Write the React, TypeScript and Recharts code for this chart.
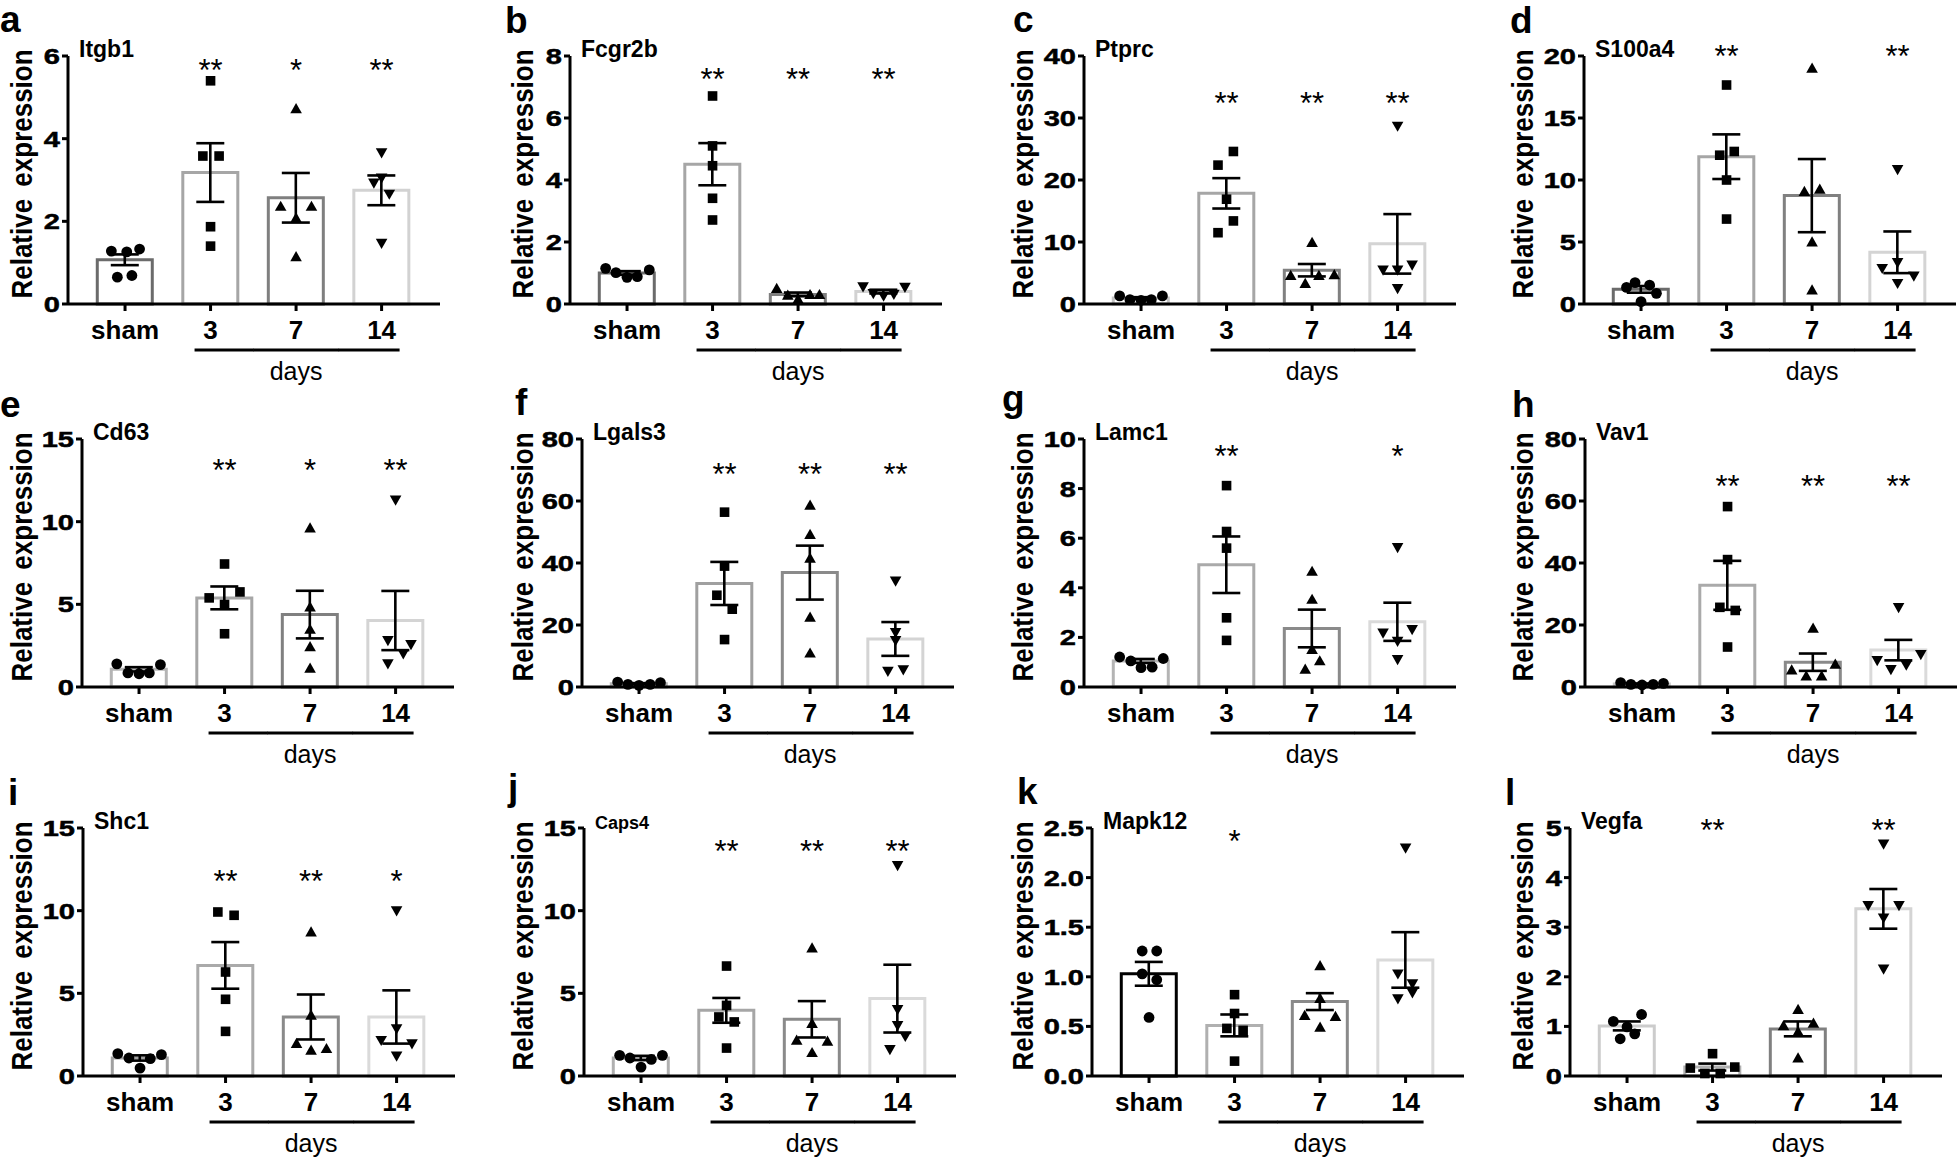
import React from 'react'
import { ComposedChart, Bar, Cell, ErrorBar, Scatter, XAxis, YAxis, ReferenceDot } from 'recharts'

const groups = ['sham', '3', '7', '14']

// a – Itgb1
const itgb1Mean = [1.07, 3.18, 2.57, 2.75]
const itgb1Sem = [0.13, 0.71, 0.6, 0.36]
const itgb1Points = [[1.28, 1.26, 1.33, 0.65, 0.69], [5.4, 3.58, 3.58, 1.87, 1.4], [4.72, 2.36, 2.36, 2.08, 1.14], [3.66, 2.93, 2.66, 3.05, 1.47]]
const itgb1Jitter = [[-0.16, 0.02, 0.17, -0.09, 0.08], [0, -0.09, 0.1, 0, 0], [0, -0.18, 0.18, 0, 0], [0, -0.09, 0.09, 0, 0]]
const itgb1Ticks = [0, 2, 4, 6]
const itgb1Stars = ['', '**', '*', '**']

// b – Fcgr2b
const fcgr2bMean = [1.0, 4.51, 0.31, 0.4]
const fcgr2bSem = [0.06, 0.68, 0.06, 0.06]
const fcgr2bPoints = [[1.15, 1.01, 0.86, 0.88, 1.1], [6.71, 5.1, 4.46, 3.41, 2.71], [0.5, 0.28, 0.15, 0.3, 0.3], [0.56, 0.34, 0.26, 0.32, 0.54]]
const fcgr2bJitter = [[-0.25, -0.13, 0, 0.12, 0.26], [0, 0, 0, 0, 0], [-0.25, -0.12, 0, 0.14, 0.25], [-0.24, -0.12, 0, 0.12, 0.25]]
const fcgr2bTicks = [0, 2, 4, 6, 8]
const fcgr2bStars = ['', '**', '**', '**']

// c – Ptprc
const ptprcMean = [0.95, 17.85, 5.45, 9.7]
const ptprcSem = [0.15, 2.45, 1.0, 4.8]
const ptprcPoints = [[1.3, 0.7, 0.6, 0.7, 1.3], [22.4, 24.6, 16.9, 13.4, 11.5], [9.9, 4.6, 4.7, 3.3, 4.6], [28.7, 5.5, 5.5, 6.3, 2.5]]
const ptprcJitter = [[-0.25, -0.13, 0, 0.12, 0.25], [-0.1, 0.08, 0, 0.08, -0.1], [0, -0.25, 0.26, -0.08, 0.08], [0, -0.17, 0, 0.17, 0]]
const ptprcTicks = [0, 10, 20, 30, 40]
const ptprcStars = ['', '**', '**', '**']

// d – S100a4
const s100a4Mean = [1.18, 11.88, 8.74, 4.17]
const s100a4Sem = [0.27, 1.8, 2.95, 1.68]
const s100a4Points = [[1.34, 1.72, 1.53, 0.86, 0.19], [17.66, 12.0, 12.3, 10.0, 6.85], [19.0, 9.06, 9.25, 5.0, 1.13], [10.86, 2.88, 3.36, 2.26, 1.67]]
const s100a4Jitter = [[-0.17, -0.07, 0.1, 0.18, 0], [0, -0.08, 0.09, 0, 0], [0, -0.09, 0.09, 0, 0], [0, -0.18, 0, 0.19, 0]]
const s100a4Ticks = [0, 5, 10, 15, 20]
const s100a4Stars = ['', '**', '', '**']

// e – Cd63
const cd63Mean = [1.07, 5.39, 4.38, 4.02]
const cd63Sem = [0.13, 0.69, 1.44, 1.79]
const cd63Points = [[1.4, 0.85, 0.8, 0.85, 1.35], [7.44, 5.39, 5.75, 4.99, 3.22], [9.61, 4.83, 3.48, 2.43, 1.13], [11.32, 2.82, 2.57, 2.01, 1.41]]
const cd63Jitter = [[-0.26, -0.13, 0, 0.12, 0.25], [0, -0.18, 0.18, 0, 0], [0, 0, 0, 0, 0], [0, -0.09, 0.18, 0.09, -0.09]]
const cd63Ticks = [0, 5, 10, 15]
const cd63Stars = ['', '**', '*', '**']

// f – Lgals3
const lgals3Mean = [1.05, 33.4, 36.9, 15.5]
const lgals3Sem = [0.2, 6.95, 8.7, 5.45]
const lgals3Points = [[1.6, 0.86, 0.53, 0.86, 1.4], [56.4, 39.0, 29.6, 25.1, 15.3], [58.6, 49.2, 41.5, 22.5, 10.9], [34.2, 17.6, 15.0, 5.1, 5.6]]
const lgals3Jitter = [[-0.25, -0.13, 0, 0.13, 0.25], [0, 0, -0.09, 0.09, 0], [0, 0, 0, 0, 0], [0, 0, 0, -0.09, 0.09]]
const lgals3Ticks = [0, 20, 40, 60, 80]
const lgals3Stars = ['', '**', '**', '**']

// g – Lamc1
const lamc1Mean = [1.05, 4.93, 2.36, 2.63]
const lamc1Sem = [0.08, 1.14, 0.76, 0.77]
const lamc1Points = [[1.21, 1.05, 0.78, 0.8, 1.15], [8.12, 6.27, 5.6, 2.79, 1.88], [4.66, 3.53, 1.51, 0.71, 1.05], [5.63, 2.18, 2.32, 1.85, 1.11]]
const lamc1Jitter = [[-0.25, -0.12, 0, 0.13, 0.26], [0, 0, 0, 0, 0], [0, 0, 0, -0.08, 0.09], [0, -0.17, 0.17, 0, 0]]
const lamc1Ticks = [0, 2, 4, 6, 8, 10]
const lamc1Stars = ['', '**', '', '*']

// h – Vav1
const vav1Mean = [1.0, 32.8, 8.0, 11.9]
const vav1Sem = [0.15, 7.9, 2.8, 3.3]
const vav1Points = [[1.4, 0.86, 0.64, 0.86, 1.18], [58.2, 41.1, 25.7, 24.7, 12.9], [18.9, 5.47, 3.54, 3.54, 7.29], [25.7, 8.58, 5.68, 7.08, 10.5]]
const vav1Jitter = [[-0.25, -0.13, 0, 0.13, 0.25], [0, 0, -0.09, 0.09, 0], [0, -0.25, -0.08, 0.1, 0.26], [0, -0.25, -0.09, 0.09, 0.26]]
const vav1Ticks = [0, 20, 40, 60, 80]
const vav1Stars = ['', '**', '**', '**']

// i – Shc1
const shc1Mean = [1.09, 6.69, 3.57, 3.57]
const shc1Sem = [0.16, 1.41, 1.36, 1.61]
const shc1Points = [[1.35, 1.09, 0.48, 1.05, 1.29], [9.92, 9.72, 6.29, 4.64, 2.7], [8.71, 3.67, 1.96, 1.55, 1.65], [10.0, 2.86, 2.16, 1.96, 1.21]]
const shc1Jitter = [[-0.26, -0.13, 0, 0.12, 0.25], [-0.09, 0.1, 0, 0, 0], [0, 0, -0.17, 0, 0.18], [0, 0, -0.18, 0.18, 0]]
const shc1Ticks = [0, 5, 10, 15]
const shc1Stars = ['', '**', '**', '*']

// j – Caps4
const caps4Mean = [1.09, 3.97, 3.43, 4.68]
const caps4Sem = [0.13, 0.75, 1.1, 2.05]
const caps4Points = [[1.25, 1.09, 0.54, 1.0, 1.25], [6.65, 4.27, 3.57, 3.27, 1.69], [7.74, 3.17, 2.16, 2.1, 1.41], [12.74, 4.03, 3.06, 2.4, 1.61]]
const caps4Jitter = [[-0.25, -0.13, 0, 0.12, 0.25], [0, 0, -0.09, 0.09, 0], [0, 0, -0.18, 0.18, 0], [0, 0, 0, 0.09, -0.09]]
const caps4Ticks = [0, 5, 10, 15]
const caps4Stars = ['', '**', '**', '**']

// k – Mapk12
const mapk12Mean = [1.03, 0.51, 0.75, 1.17]
const mapk12Sem = [0.12, 0.11, 0.085, 0.28]
const mapk12Points = [[1.26, 1.26, 1.03, 0.97, 0.59], [0.82, 0.63, 0.48, 0.46, 0.15], [1.11, 0.78, 0.61, 0.6, 0.49], [2.3, 1.03, 0.93, 0.78, 0.84]]
const mapk12Jitter = [[-0.08, 0.09, -0.08, 0.09, 0], [0, 0, -0.09, 0.1, 0], [0, 0, -0.18, 0.18, 0], [0, -0.09, 0.08, -0.09, 0.08]]
const mapk12Ticks = [0, 0.5, 1, 1.5, 2, 2.5]
const mapk12Stars = ['', '*', '', '']

// l – Vegfa
const vegfaMean = [1.01, 0.18, 0.95, 3.37]
const vegfaSem = [0.09, 0.07, 0.15, 0.4]
const vegfaPoints = [[1.1, 0.99, 1.24, 0.75, 0.85], [0.45, 0.16, 0.18, 0.05, 0.05], [1.34, 1.01, 1.06, 0.89, 0.36], [4.68, 3.44, 3.44, 3.19, 2.16]]
const vegfaJitter = [[-0.16, 0, 0.17, -0.08, 0.09], [0, -0.26, 0.26, -0.09, 0.09], [0, -0.17, 0.18, 0, 0], [0, -0.18, 0.18, 0, 0]]
const vegfaTicks = [0, 1, 2, 3, 4, 5]
const vegfaStars = ['', '**', '', '**']

const panels = [
  { letter: 'a', gene: 'Itgb1', mean: itgb1Mean, sem: itgb1Sem, points: itgb1Points, jitter: itgb1Jitter, ticks: itgb1Ticks, stars: itgb1Stars, starY: 5.8 },
  { letter: 'b', gene: 'Fcgr2b', mean: fcgr2bMean, sem: fcgr2bSem, points: fcgr2bPoints, jitter: fcgr2bJitter, ticks: fcgr2bTicks, stars: fcgr2bStars, starY: 7.44 },
  { letter: 'c', gene: 'Ptprc', mean: ptprcMean, sem: ptprcSem, points: ptprcPoints, jitter: ptprcJitter, ticks: ptprcTicks, stars: ptprcStars, starY: 33.4 },
  { letter: 'd', gene: 'S100a4', mean: s100a4Mean, sem: s100a4Sem, points: s100a4Points, jitter: s100a4Jitter, ticks: s100a4Ticks, stars: s100a4Stars, starY: 20.5 },
  { letter: 'e', gene: 'Cd63', mean: cd63Mean, sem: cd63Sem, points: cd63Points, jitter: cd63Jitter, ticks: cd63Ticks, stars: cd63Stars, starY: 13.5 },
  { letter: 'f', gene: 'Lgals3', mean: lgals3Mean, sem: lgals3Sem, points: lgals3Points, jitter: lgals3Jitter, ticks: lgals3Ticks, stars: lgals3Stars, starY: 70.8 },
  { letter: 'g', gene: 'Lamc1', mean: lamc1Mean, sem: lamc1Sem, points: lamc1Points, jitter: lamc1Jitter, ticks: lamc1Ticks, stars: lamc1Stars, starY: 9.56 },
  { letter: 'h', gene: 'Vav1', mean: vav1Mean, sem: vav1Sem, points: vav1Points, jitter: vav1Jitter, ticks: vav1Ticks, stars: vav1Stars, starY: 66.8 },
  { letter: 'i', gene: 'Shc1', mean: shc1Mean, sem: shc1Sem, points: shc1Points, jitter: shc1Jitter, ticks: shc1Ticks, stars: shc1Stars, starY: 12.14 },
  { letter: 'j', gene: 'Caps4', mean: caps4Mean, sem: caps4Sem, points: caps4Points, jitter: caps4Jitter, ticks: caps4Ticks, stars: caps4Stars, starY: 14.0 },
  { letter: 'k', gene: 'Mapk12', mean: mapk12Mean, sem: mapk12Sem, points: mapk12Points, jitter: mapk12Jitter, ticks: mapk12Ticks, stars: mapk12Stars, starY: 2.43 },
  { letter: 'l', gene: 'Vegfa', mean: vegfaMean, sem: vegfaSem, points: vegfaPoints, jitter: vegfaJitter, ticks: vegfaTicks, stars: vegfaStars, starY: 5.09 },
]

// layout / styling per panel (pixels, colours)
const colLeft = [0, 490, 980, 1470]
const rowTop = [0, 385, 772]
const rowHeight = [385, 387, 390]
const rowMarginTop = [56, 54, 56]
const PAD = 16 // extra room above each panel so the big letters are never clipped
const axisWidth = [68, 80, 104, 114, 82, 92, 104, 115, 83, 94, 112, 100]
const yLabelX = [22, 33, 43, 53]
const letterPos = [[0, 32], [15, 33], [33, 32], [40, 33], [0, 32], [25, 30], [22, 26], [42, 32], [8, 33], [18, 28], [37, 32], [35, 33]]
const barStrokes = [
  ['#6b6b6b', '#a6a6a6', '#7f7f7f', '#d2d2d2'],
  ['#6b6b6b', '#a6a6a6', '#7f7f7f', '#d2d2d2'],
  ['#c4c4c4', '#a6a6a6', '#808080', '#d4d4d4'],
  ['#6b6b6b', '#a6a6a6', '#808080', '#d4d4d4'],
  ['#b4b4b4', '#a6a6a6', '#808080', '#d4d4d4'],
  ['#b4b4b4', '#a0a0a0', '#8a8a8a', '#d4d4d4'],
  ['#b4b4b4', '#aaaaaa', '#8a8a8a', '#dadada'],
  ['#c8c8c8', '#aaaaaa', '#8a8a8a', '#dadada'],
  ['#a0a0a0', '#aaaaaa', '#8a8a8a', '#dadada'],
  ['#b0b0b0', '#a6a6a6', '#8a8a8a', '#dadada'],
  ['#000000', '#b0b0b0', '#8a8a8a', '#dadada'],
  ['#cccccc', '#b0b0b0', '#808080', '#d4d4d4'],
]

const CHART_W = 490
const PLOT_W = 372
const PLOT_H = 248
const X_DOMAIN = [-0.667, 3.683]
const SANS = '"Liberation Sans", Arial, sans-serif'

const markerFor = (kind: number) => (p: any) => {
  const { cx, cy } = p
  if (cx == null || cy == null) return null
  if (kind === 0) return <circle cx={cx} cy={cy} r={5.4} fill="#000" />
  if (kind === 1) return <rect x={cx - 4.8} y={cy - 4.8} width={9.6} height={9.6} fill="#000" />
  if (kind === 2) return <path d={`M${cx},${cy - 5.8} L${cx + 5.8},${cy + 4.4} L${cx - 5.8},${cy + 4.4} Z`} fill="#000" />
  return <path d={`M${cx},${cy + 5.8} L${cx + 5.8},${cy - 4.4} L${cx - 5.8},${cy - 4.4} Z`} fill="#000" />
}

const starShape = (text: string) => (p: any) => (
  <text x={p.cx} y={p.cy + 17} textAnchor="middle" fontSize={31} fontFamily={SANS} fill="#000">
    {text}
  </text>
)

function GroupTick(props: any) {
  const { x, y, payload } = props
  const i = payload.value
  return (
    <g>
      <text x={x} y={y + 26} textAnchor="middle" fontSize={26} fontWeight="bold" fontFamily={SANS} fill="#000">
        {groups[i]}
      </text>
      {i >= 1 && (
        <line x1={i === 1 ? x - 16 : x - 43} x2={i === 3 ? x + 18 : x + 43} y1={y + 37} y2={y + 37} stroke="#000" strokeWidth={3} />
      )}
      {i === 2 && (
        <text x={x} y={y + 67} textAnchor="middle" fontSize={25} fontFamily={SANS} fill="#000">
          days
        </text>
      )}
    </g>
  )
}

function ValueTick(props: any) {
  const { x, y, payload, decimals } = props
  const v = payload.value as number
  return (
    <g transform={`translate(${x},${y + 7.9}) scale(1.32,1)`}>
      <text x={0} y={0} textAnchor="end" fontSize={22} fontWeight="bold" fontFamily={SANS} fill="#000" stroke="#000" strokeWidth={0.5}>
        {decimals ? v.toFixed(1) : String(v)}
      </text>
    </g>
  )
}

function GeneChart({ idx }: { idx: number }) {
  const p = panels[idx]
  const row = Math.floor(idx / 4)
  const col = idx % 4
  const mt = rowMarginTop[row] + PAD
  const h = rowHeight[row] + PAD
  const aw = axisWidth[idx]
  const maxY = p.ticks[p.ticks.length - 1]
  const decimals = p.ticks.some(t => !Number.isInteger(t))
  const barData = p.mean.map((m, g) => ({ x: g, mean: m, sem: p.sem[g] }))
  const scatterData = p.points.map((vals, g) => vals.map((v, k) => ({ x: g + p.jitter[g][k], y: v })))
  const labelY = mt + PLOT_H / 2 - 6

  const texts = () => (
    <g>
      <text x={letterPos[idx][0]} y={letterPos[idx][1] + PAD} fontSize={37} fontWeight="bold" fontFamily={SANS} fill="#000">
        {p.letter}
      </text>
      <text x={aw + 11} y={mt + 1} fontSize={p.gene === 'Caps4' ? 18 : 23} fontWeight="bold" fontFamily={SANS} fill="#000">
        {p.gene}
      </text>
      <g transform={`translate(${yLabelX[col]},${labelY}) rotate(-90) scale(1,1.12)`}>
        <text
          x={0}
          y={0}
          textAnchor="middle"
          dominantBaseline="central"
          fontSize={26}
          fontWeight="bold"
          wordSpacing={5}
          fontFamily={SANS}
          fill="#000"
        >
          Relative expression
        </text>
      </g>
    </g>
  )

  return (
    <div style={{ position: 'absolute', left: colLeft[col], top: rowTop[row] - PAD, width: CHART_W, height: h }}>
      <ComposedChart
        width={CHART_W}
        height={h}
        data={barData}
        margin={{ top: mt, right: CHART_W - aw - PLOT_W, bottom: 0, left: 0 }}
      >
        <XAxis
          type="number"
          dataKey="x"
          domain={X_DOMAIN}
          ticks={[0, 1, 2, 3]}
          interval={0}
          height={h - mt - PLOT_H}
          axisLine={{ stroke: '#000', strokeWidth: 3 }}
          tickLine={{ stroke: '#000', strokeWidth: 3 }}
          tickSize={7}
          tickMargin={2}
          tick={(tp: any) => <GroupTick {...tp} />}
        />
        <XAxis xAxisId="bars" type="number" dataKey="x" domain={X_DOMAIN} hide />
        <YAxis
          type="number"
          width={aw}
          domain={[0, maxY]}
          ticks={p.ticks}
          tickCount={p.ticks.length}
          interval={0}
          axisLine={{ stroke: '#000', strokeWidth: 3 }}
          tickLine={{ stroke: '#000', strokeWidth: 3 }}
          tickSize={6}
          tickMargin={2}
          tick={(tp: any) => <ValueTick {...tp} decimals={decimals} />}
          label={{ content: texts }}
        />
        <Bar xAxisId="bars" dataKey="mean" barSize={55} fill="#fff" strokeWidth={3} isAnimationActive={false}>
          {barData.map((_, g) => (
            <Cell key={g} fill="#fff" stroke={barStrokes[idx][g]} />
          ))}
          <ErrorBar dataKey="sem" width={14} stroke="#000" strokeWidth={2.6} direction="y" />
        </Bar>
        {scatterData.map((d, g) => (
          <Scatter key={g} data={d} dataKey="y" shape={markerFor(g)} isAnimationActive={false} />
        ))}
        {p.stars.map((s, g) =>
          s ? <ReferenceDot key={`s${g}`} x={g} y={p.starY} r={0} ifOverflow="visible" shape={starShape(s)} /> : null
        )}
      </ComposedChart>
    </div>
  )
}

export default function App() {
  return (
    <div style={{ position: 'absolute', left: 0, top: 0, width: 1960, height: 1162, background: '#fff', overflow: 'hidden' }}>
      {panels.map((_, i) => (
        <GeneChart key={i} idx={i} />
      ))}
    </div>
  )
}
